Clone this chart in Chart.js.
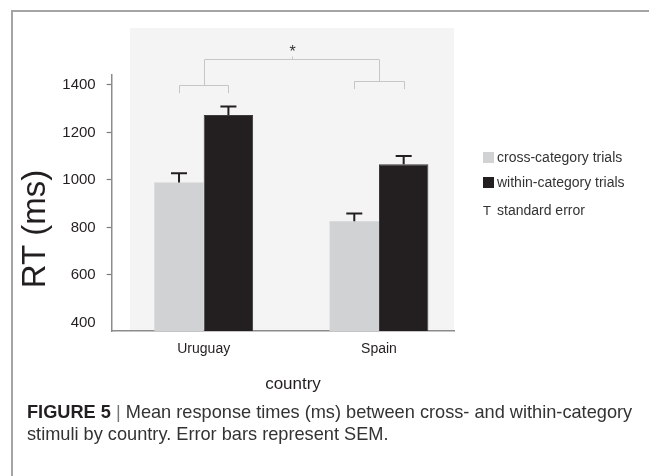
<!DOCTYPE html>
<html>
<head>
<meta charset="utf-8">
<script src="https://cdn.jsdelivr.net/npm/chart.js@4/dist/chart.umd.min.js"></script>
<style>
  html, body { margin: 0; padding: 0; background: #fff; }
  body { width: 649px; height: 476px; position: relative; overflow: hidden;
         font-family: "Liberation Sans", Arial, sans-serif; }
  #frame { position: absolute; left: 11px; top: 10px; width: 700px; height: 600px;
           border-top: 2px solid #a4a4a4; border-left: 2px solid #a4a4a4; }
  #c { position: absolute; left: 0; top: 0; }
  .lg { position: absolute; left: 483px; height: 16px; line-height: 16px;
        font-size: 14px; color: #333; white-space: nowrap; }
  .lg i { display: inline-block; width: 11px; height: 11px; vertical-align: -1px; margin-right: 3px; }
  .lg .t { display: inline-block; width: 14px; font-size: 13px; }
  #caption { position: absolute; left: 27px; top: 401px; font-size: 18.2px; line-height: 22px;
             color: #333; white-space: nowrap; }
  #caption b { color: #231f20; }
  #caption .sep { color: #777; }
</style>
</head>
<body>
<div id="frame"></div>
<canvas id="c" width="649" height="476"></canvas>
<div id="legend"></div>
<div id="caption"><b>FIGURE 5</b> <span class="sep">|</span> Mean response times (ms) between cross- and within-category<br>stimuli by country. Error bars represent SEM.</div>
<script>
// Mean RT per country and condition, with standard error of the mean
const countries = ['Uruguay', 'Spain'];
const crossRT = [989, 826];
const withinRT = [1274, 1066];
const crossSEM = [39, 33];
const withinSEM = [35, 35];
const yTicks = [400, 600, 800, 1000, 1200, 1400];
const seriesNames = ['cross-category trials', 'within-category trials'];
const seriesColors = ['#d1d2d4', '#231f20'];
const yTitle = 'RT (ms)';
const xTitle = 'country';
const errorLabel = 'standard error';

// significance bracket levels (in ms on the RT axis)
const groupBracketLevels = [1400, 1417];
const topBracketLevel = 1508;

const FONT = '"Liberation Sans", Arial, sans-serif';

// light panel behind the bars
const panelPlugin = {
  id: 'panel',
  beforeDraw(chart) {
    const { ctx, chartArea } = chart;
    ctx.save();
    ctx.fillStyle = '#f4f4f4';
    ctx.fillRect(130, 28, chartArea.right - 130, chartArea.bottom - 28);
    ctx.restore();
  }
};

// upper error whiskers
const errorBarPlugin = {
  id: 'errorBars',
  afterDatasetsDraw(chart) {
    const { ctx } = chart;
    const y = chart.scales.y;
    ctx.save();
    ctx.strokeStyle = '#231f20';
    ctx.lineWidth = 2;
    chart.data.datasets.forEach((ds, di) => {
      const meta = chart.getDatasetMeta(di);
      meta.data.forEach((bar, i) => {
        const top = y.getPixelForValue(ds.data[i].y + ds.sem[i]);
        ctx.beginPath();
        ctx.moveTo(bar.x, bar.y);
        ctx.lineTo(bar.x, top);
        ctx.moveTo(bar.x - 8, top);
        ctx.lineTo(bar.x + 8, top);
        ctx.stroke();
      });
    });
    ctx.restore();
  }
};

// comparison brackets with significance star
const bracketPlugin = {
  id: 'brackets',
  afterDatasetsDraw(chart) {
    const { ctx } = chart;
    const y = chart.scales.y;
    const a = chart.getDatasetMeta(0).data;
    const b = chart.getDatasetMeta(1).data;
    const drop = 7.6;
    ctx.save();
    ctx.strokeStyle = '#c6c6c6';
    ctx.lineWidth = 1;
    const centers = [];
    const levels = [];
    a.forEach((bar, i) => {
      const x0 = bar.x, x1 = b[i].x;
      const yy = Math.round(y.getPixelForValue(groupBracketLevels[i])) + 0.5;
      ctx.beginPath();
      ctx.moveTo(Math.round(x0) + 0.5, yy + drop);
      ctx.lineTo(Math.round(x0) + 0.5, yy);
      ctx.lineTo(Math.round(x1) + 0.5, yy);
      ctx.lineTo(Math.round(x1) + 0.5, yy + drop);
      ctx.stroke();
      centers.push(Math.round((x0 + x1) / 2) + 0.5);
      levels.push(yy);
    });
    const yt = Math.round(y.getPixelForValue(topBracketLevel)) + 0.5;
    ctx.beginPath();
    ctx.moveTo(centers[0], levels[0]);
    ctx.lineTo(centers[0], yt);
    ctx.lineTo(centers[1], yt);
    ctx.lineTo(centers[1], levels[1]);
    const mid = Math.round((centers[0] + centers[1]) / 2) + 0.5;
    ctx.moveTo(mid, yt);
    ctx.lineTo(mid, yt - 3);
    ctx.stroke();
    ctx.fillStyle = '#333';
    ctx.font = '16px ' + FONT;
    ctx.textAlign = 'center';
    ctx.textBaseline = 'middle';
    ctx.fillText('*', mid, yt - 7);
    ctx.restore();
  }
};

// axis titles
const titlesPlugin = {
  id: 'axisTitles',
  afterDraw(chart) {
    const { ctx } = chart;
    ctx.save();
    ctx.fillStyle = '#231f20';
    ctx.textAlign = 'center';
    ctx.textBaseline = 'middle';
    ctx.font = '17px ' + FONT;
    ctx.fillText(xTitle, 293, 384);
    ctx.translate(36, 229);
    ctx.rotate(-Math.PI / 2);
    ctx.font = '33px ' + FONT;
    ctx.fillText(yTitle, 0, 0);
    ctx.restore();
  }
};

const chart = new Chart(document.getElementById('c'), {
  type: 'bar',
  data: {
    datasets: [
      { label: seriesNames[0], data: crossRT.map((v, i) => ({ x: i, y: v })), sem: crossSEM,
        backgroundColor: seriesColors[0], borderWidth: 0 },
      { label: seriesNames[1], data: withinRT.map((v, i) => ({ x: i, y: v })), sem: withinSEM,
        backgroundColor: seriesColors[1], borderColor: '#3d3a3b', borderWidth: 1 }
    ]
  },
  options: {
    responsive: false,
    animation: false,
    devicePixelRatio: 1,
    categoryPercentage: 0.5636,
    barPercentage: 1,
    layout: { padding: { left: 0, top: 75, right: 195, bottom: 105 } },
    plugins: { legend: { display: false }, tooltip: { enabled: false } },
    scales: {
      x: {
        type: 'linear', offset: false, min: -0.525, max: 1.428,
        afterBuildTicks: s => { s.ticks = countries.map((_, i) => ({ value: i })); },
        afterFit: s => { s.height = 40; },
        grid: { display: false, drawTicks: false },
        border: { display: true, color: '#8c8c8c', width: 1.5 },
        ticks: { callback: v => countries[v], autoSkip: false, maxRotation: 0, padding: 10,
                 color: '#231f20', font: { family: FONT, size: 14 } }
      },
      y: {
        min: 364, max: 1442,
        afterBuildTicks: s => { s.ticks = yTicks.map(v => ({ value: v })); },
        afterFit: s => { s.width = 111.7; },
        grid: { drawOnChartArea: false, drawTicks: true, tickLength: 5, tickWidth: 1.2,
                tickColor: c => (c.tick && c.tick.value === yTicks[0]) ? 'rgba(0,0,0,0)' : '#7a7a7a' },
        border: { display: true, color: '#8c8c8c', width: 1.5 },
        ticks: { callback: v => String(v), padding: 11, color: '#231f20', font: { family: FONT, size: 15 } }
      }
    }
  },
  plugins: [panelPlugin, errorBarPlugin, bracketPlugin, titlesPlugin]
});

// legend built from the chart's own datasets
const legend = document.getElementById('legend');
const rowTops = [149, 174, 202];
chart.data.datasets.forEach((ds, i) => {
  const row = document.createElement('div');
  row.className = 'lg';
  row.style.top = rowTops[i] + 'px';
  const sw = document.createElement('i');
  sw.style.background = ds.backgroundColor;
  row.appendChild(sw);
  row.appendChild(document.createTextNode(ds.label));
  legend.appendChild(row);
});
const errRow = document.createElement('div');
errRow.className = 'lg';
errRow.style.top = rowTops[2] + 'px';
errRow.innerHTML = '<span class="t">T</span>' + errorLabel;
legend.appendChild(errRow);
</script>
</body>
</html>
